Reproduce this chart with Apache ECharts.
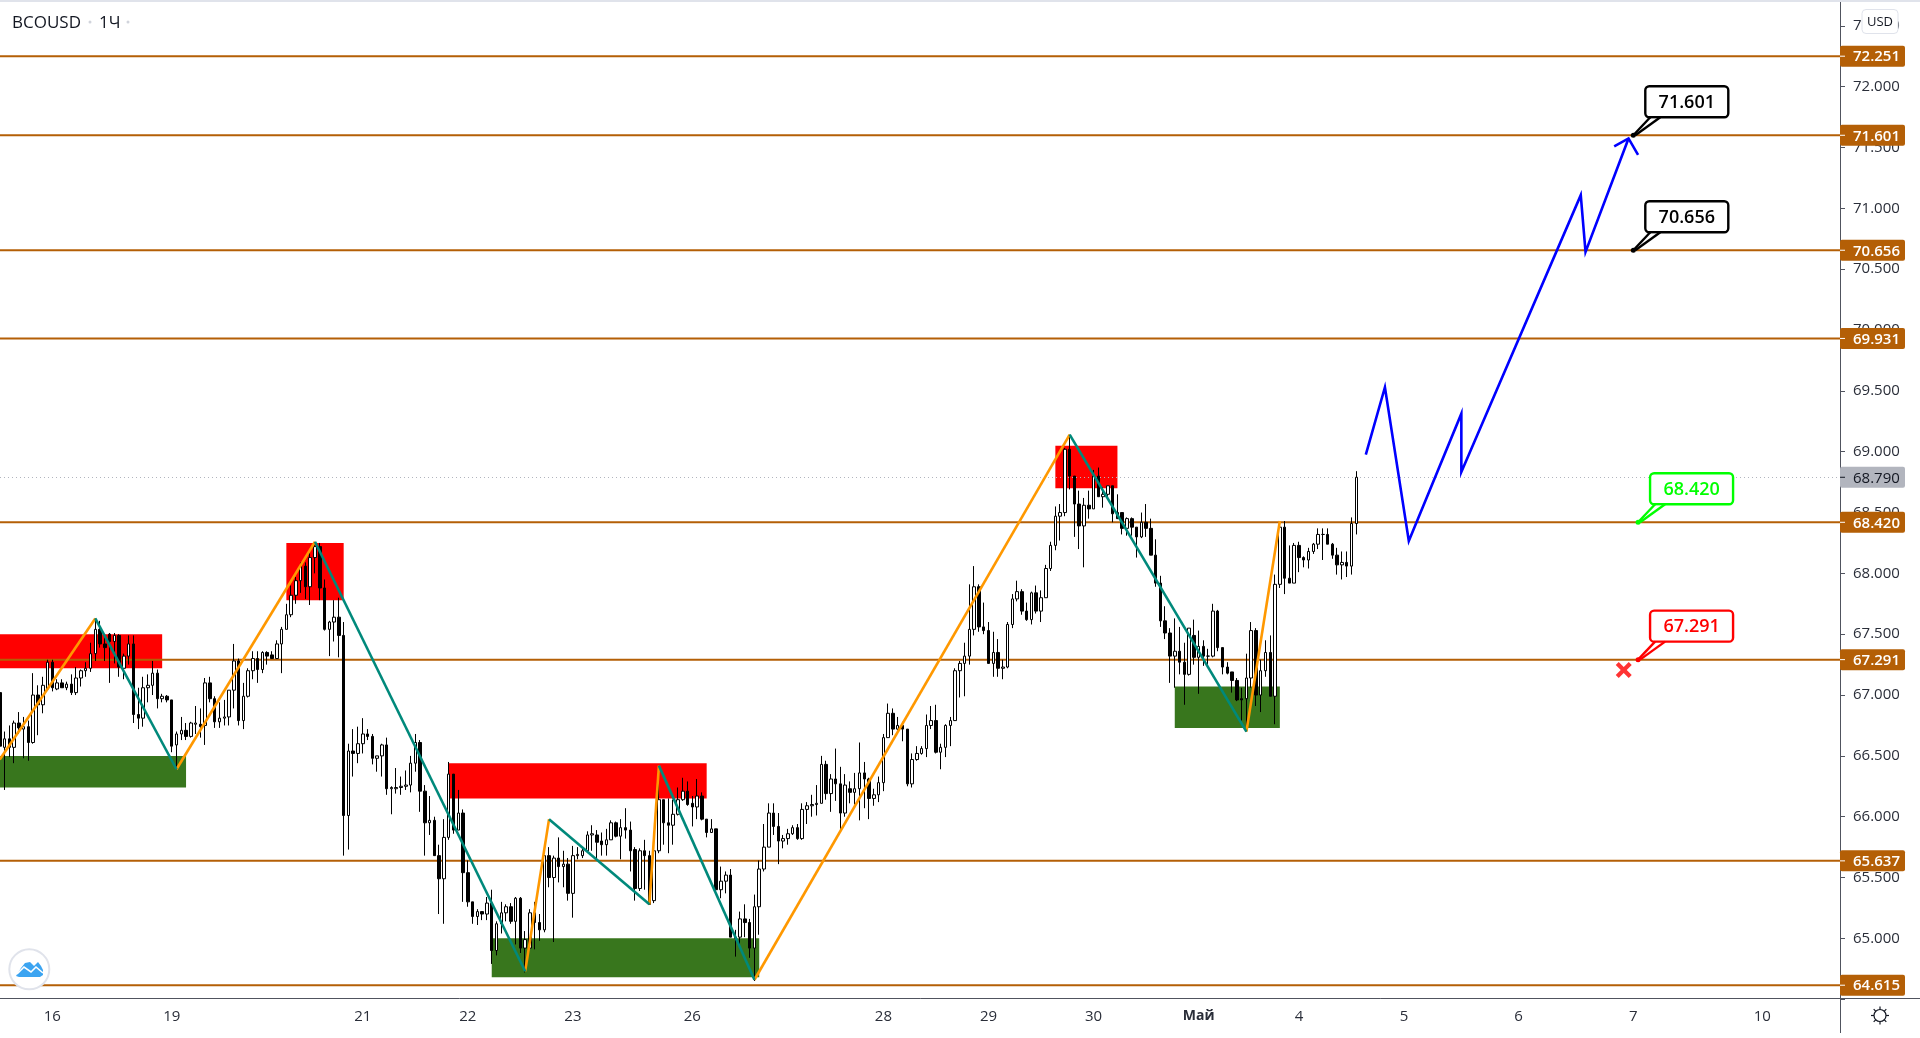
<!DOCTYPE html>
<html>
<head>
<meta charset="utf-8">
<title>BCOUSD 1Ч</title>
<script src="https://cdn.jsdelivr.net/npm/echarts@6/dist/echarts.min.js"></script>
<style>
html, body { margin: 0; padding: 0; background: #fff; }
#chart { width: 1920px; height: 1038px; }
</style>
</head>
<body>
<div id="chart"></div>
<script>
"use strict";

// one row per hourly bar: open, close, low, high
const candles = [
  [67.02,66.58,66.57,67.03],[66.57,66.64,66.22,66.70],[66.64,66.57,66.49,66.75],[66.57,66.77,66.44,66.79],[66.77,66.73,66.68,66.86],
  [66.72,66.74,66.48,66.82],[66.74,66.61,66.46,66.79],[66.61,67.00,66.60,67.18],[67.00,66.92,66.67,67.08],[66.92,67.08,66.85,67.15],
  [67.05,67.27,67.05,67.29],[67.27,67.06,67.03,67.29],[67.05,67.10,67.04,67.13],[67.10,67.06,67.06,67.13],[67.06,67.09,67.04,67.11],
  [67.09,67.02,67.00,67.17],[67.02,67.14,67.00,67.23],[67.14,67.20,67.07,67.21],[67.20,67.22,67.15,67.27],[67.22,67.34,67.19,67.43],
  [67.34,67.54,67.28,67.63],[67.54,67.42,67.39,67.61],[67.42,67.39,67.28,67.48],[67.50,67.44,67.10,67.51],[67.44,67.49,67.26,67.51],
  [67.49,67.23,67.15,67.50],[67.22,67.32,67.13,67.34],[67.32,67.42,67.25,67.49],[67.42,66.84,66.77,67.49],[66.84,66.81,66.72,67.06],
  [66.81,67.06,66.74,67.15],[67.06,67.08,66.94,67.17],[67.08,67.18,67.00,67.28],[67.18,66.97,66.89,67.21],[66.97,66.99,66.94,67.01],
  [66.99,66.96,66.94,67.00],[66.96,66.58,66.53,66.96],[66.59,66.68,66.39,66.70],[66.68,66.71,66.63,66.82],[66.71,66.66,66.63,66.77],
  [66.66,66.77,66.65,66.78],[66.76,66.77,66.68,66.91],[66.76,66.74,66.65,66.89],[66.75,67.10,66.59,67.14],[67.10,66.97,66.94,67.15],
  [66.97,66.78,66.73,66.99],[66.78,66.81,66.73,66.94],[66.81,66.82,66.75,66.96],[66.82,67.04,66.75,67.04],[67.04,67.28,66.89,67.42],
  [67.28,66.79,66.75,67.30],[66.79,66.99,66.72,67.10],[66.99,67.20,66.98,67.22],[67.20,67.30,67.13,67.36],[67.30,67.21,67.10,67.36],
  [67.21,67.35,67.18,67.36],[67.35,67.32,67.25,67.36],[67.33,67.30,67.30,67.36],[67.30,67.42,67.30,67.45],[67.42,67.54,67.18,67.56],
  [67.54,67.66,67.54,67.75],[67.66,67.82,67.64,67.90],[67.82,67.94,67.75,67.97],[67.94,68.06,67.84,68.09],[68.06,67.89,67.79,68.09],
  [67.89,68.13,67.74,68.20],[68.13,68.22,68.00,68.25],[68.22,67.88,67.78,68.25],[67.88,67.54,67.53,67.95],[67.54,67.60,67.32,67.61],
  [67.60,67.64,67.44,67.78],[67.64,67.49,67.31,67.80],[67.49,66.01,65.68,67.60],[66.01,66.54,65.73,66.60],[66.54,66.52,66.33,66.72],
  [66.52,66.60,66.44,66.74],[66.60,66.68,66.52,66.81],[66.68,66.66,66.63,66.72],[66.66,66.48,66.43,66.68],[66.48,66.50,66.37,66.50],
  [66.50,66.59,66.33,66.60],[66.59,66.23,66.18,66.65],[66.23,66.24,66.02,66.25],[66.23,66.24,66.19,66.40],[66.24,66.25,66.18,66.33],
  [66.25,66.26,66.22,66.38],[66.26,66.44,66.20,66.50],[66.44,66.61,66.37,66.68],[66.61,66.21,66.04,66.63],[66.21,65.95,65.68,66.26],
  [65.95,65.97,65.85,66.17],[65.97,65.68,65.68,66.00],[65.68,65.49,65.20,65.77],[65.49,65.83,65.12,65.98],[65.83,66.35,65.81,66.45],
  [66.35,65.89,65.86,66.35],[65.89,66.03,65.89,66.22],[66.03,65.54,65.30,66.06],[65.54,65.30,65.26,65.64],[65.30,65.18,65.12,65.30],
  [65.18,65.22,65.11,65.24],[65.22,65.20,65.15,65.22],[65.20,65.29,65.15,65.34],[65.29,64.90,64.79,65.40],[64.90,65.12,64.86,65.14],
  [65.12,65.21,65.04,65.30],[65.21,65.26,65.14,65.28],[65.26,65.14,65.12,65.29],[65.14,65.33,64.95,65.34],[65.33,64.92,64.88,65.34],
  [64.92,64.99,64.72,65.06],[64.92,65.21,64.92,65.24],[65.21,65.13,64.91,65.30],[65.13,65.07,64.98,65.20],[65.07,65.68,65.05,65.68],
  [65.68,65.50,65.42,65.75],[65.50,65.66,64.97,65.68],[65.66,65.59,65.46,65.83],[65.59,65.61,65.42,65.72],[65.61,65.37,65.31,65.66],
  [65.37,65.68,65.17,65.76],[65.68,65.69,65.65,65.75],[65.68,65.72,65.66,65.75],[65.72,65.85,65.72,65.88],[65.85,65.86,65.72,65.93],
  [65.85,65.79,65.64,65.89],[65.80,65.77,65.68,65.87],[65.77,65.81,65.68,65.90],[65.81,65.95,65.81,65.97],[65.95,65.84,65.83,65.96],
  [65.84,65.91,65.65,65.98],[65.91,65.89,65.82,66.07],[65.89,65.72,65.55,65.96],[65.73,65.41,65.31,65.75],[65.41,65.72,65.39,65.74],
  [65.72,65.68,65.40,65.81],[65.68,65.28,65.28,65.72],[65.31,65.72,65.29,65.75],[65.72,66.14,65.70,66.40],[66.14,65.95,65.77,66.14],
  [65.95,65.93,65.70,66.15],[65.93,66.02,65.77,66.14],[66.02,66.14,66.01,66.24],[66.14,66.21,66.13,66.32],[66.21,66.10,66.09,66.29],
  [66.11,66.08,65.92,66.17],[66.08,66.17,65.98,66.31],[66.17,65.98,65.97,66.20],[65.98,65.87,65.83,65.98],[65.87,65.90,65.87,65.98],
  [65.90,65.40,65.39,65.90],[65.40,65.47,65.33,65.59],[65.47,65.52,65.37,65.55],[65.52,65.01,65.01,65.57],[65.01,65.00,64.85,65.07],
  [65.01,65.16,64.93,65.22],[65.16,65.13,65.01,65.28],[65.13,64.92,64.84,65.16],[64.92,65.26,64.65,65.36],[65.26,65.57,65.03,65.64],
  [65.57,65.75,65.55,65.94],[65.75,66.03,65.75,66.11],[66.03,65.92,65.85,66.11],[65.92,65.80,65.61,66.03],[65.80,65.82,65.74,65.85],
  [65.82,65.86,65.77,65.90],[65.86,65.91,65.85,65.93],[65.91,65.82,65.81,65.94],[65.82,66.06,65.81,66.11],[66.06,66.09,65.94,66.12],
  [66.09,66.10,66.00,66.18],[66.10,66.11,66.01,66.26],[66.11,66.43,66.11,66.50],[66.43,66.19,66.14,66.46],[66.19,66.31,66.04,66.35],
  [66.31,66.27,66.13,66.56],[66.27,66.03,65.90,66.41],[66.03,66.26,66.00,66.35],[66.23,66.20,66.11,66.29],[66.20,66.23,66.10,66.36],
  [66.23,66.36,65.97,66.61],[66.36,66.31,66.07,66.45],[66.31,66.15,65.98,66.32],[66.15,66.18,66.09,66.23],[66.18,66.28,66.12,66.33],
  [66.28,66.65,66.21,66.68],[66.65,66.85,66.65,66.93],[66.85,66.72,66.67,66.89],[66.72,66.75,66.71,66.82],[66.75,66.72,66.62,66.78],
  [66.72,66.27,66.25,66.72],[66.27,66.47,66.24,66.52],[66.47,66.52,66.46,66.58],[66.52,66.56,66.51,66.58],[66.56,66.75,66.49,66.84],
  [66.75,66.79,66.72,66.91],[66.79,66.53,66.52,66.92],[66.53,66.57,66.39,66.60],[66.57,66.75,66.49,66.76],[66.75,66.79,66.58,66.82],
  [66.79,67.20,66.79,67.22],[67.20,67.26,66.98,67.28],[67.26,67.32,66.99,67.43],[67.32,67.54,67.25,67.91],[67.54,67.89,67.49,68.06],
  [67.89,67.56,67.52,67.91],[67.56,67.53,67.50,67.76],[67.53,67.26,67.26,67.60],[67.26,67.35,67.15,67.52],[67.35,67.22,67.15,67.46],
  [67.22,67.23,67.13,67.29],[67.23,67.58,67.22,67.60],[67.58,67.79,67.55,67.83],[67.79,67.85,67.77,67.94],[67.85,67.69,67.66,67.87],
  [67.69,67.62,67.61,67.76],[67.62,67.84,67.58,67.85],[67.84,67.69,67.67,67.90],[67.69,67.80,67.60,67.86],[67.80,68.04,67.80,68.07],
  [68.04,68.23,68.02,68.26],[68.23,68.47,68.19,68.55],[68.47,68.50,68.27,68.57],[68.50,69.02,68.47,69.03],[69.02,68.80,68.69,69.14],
  [68.80,68.57,68.30,68.80],[68.57,68.39,68.20,68.68],[68.39,68.56,68.05,68.62],[68.56,68.53,68.45,68.68],[68.53,68.80,68.53,68.85],
  [68.80,68.63,68.63,68.87],[68.63,68.65,68.54,68.71],[68.65,68.72,68.62,68.72],[68.72,68.49,68.42,68.72],[68.50,68.45,68.45,68.65],
  [68.50,68.37,68.32,68.50],[68.37,68.45,68.31,68.46],[68.45,68.38,68.31,68.46],[68.38,68.30,68.13,68.38],[68.30,68.42,68.29,68.50],
  [68.42,68.37,68.30,68.57],[68.37,68.15,68.15,68.45],[68.15,67.92,67.89,68.28],[67.92,67.61,67.56,67.98],[67.61,67.51,67.46,67.73],
  [67.51,67.32,67.10,67.55],[67.32,67.36,67.06,67.63],[67.36,67.27,67.17,67.56],[67.27,67.17,66.92,67.43],[67.17,67.55,67.16,67.55],
  [67.49,67.31,67.25,67.62],[67.31,67.40,67.01,67.53],[67.40,67.32,67.24,67.45],[67.32,67.32,67.25,67.38],[67.32,67.69,67.31,67.75],
  [67.69,67.39,67.36,67.70],[67.39,67.23,67.17,67.39],[67.23,67.18,67.17,67.27],[67.19,67.12,67.02,67.19],[67.12,66.96,66.95,67.14],
  [66.97,66.96,66.79,67.06],[66.97,67.14,66.70,67.34],[67.14,67.53,67.06,67.60],[67.53,67.00,66.91,67.55],[67.00,67.20,66.86,67.29],
  [67.20,67.35,67.15,67.45],[67.35,66.99,66.99,67.49],[66.99,67.91,66.76,67.99],[67.91,68.38,67.88,68.43],[68.38,67.96,67.83,68.43],
  [67.96,67.92,67.92,68.23],[67.92,68.23,67.92,68.25],[68.23,68.13,68.01,68.26],[68.13,68.11,68.05,68.14],[68.11,68.18,68.04,68.21],
  [68.18,68.24,68.16,68.25],[68.24,68.32,68.20,68.37],[68.32,68.32,68.11,68.37],[68.32,68.24,68.24,68.37],[68.24,68.15,68.12,68.25],
  [68.15,68.07,67.99,68.21],[68.07,68.09,67.95,68.18],[68.09,68.06,67.97,68.18],[68.06,68.41,67.99,68.46],[68.41,68.79,68.32,68.84],
];

// bar slots on the time axis, past and projected
const barCount = 386;
const tickBars = [11, 36, 76, 98, 120, 145, 185, 207, 229, 251, 272, 294, 318, 342, 369];
const tickLabels = ["16", "19", "21", "22", "23", "26", "28", "29", "30", "Май", "4", "5", "6", "7", "10"];

const levels = [72.251, 71.601, 70.656, 69.931, 68.42, 67.291, 65.637, 64.615];
const lastPrice = 68.79;

// zones: start bar, end bar, top price, bottom price
const redZones = [[0, 34, 67.50, 67.22], [60, 72, 68.25, 67.78], [94, 148, 66.44, 66.15], [221, 234, 69.05, 68.70]];
const greenZones = [[0, 39, 66.50, 66.24], [103, 159, 65.00, 64.68], [246, 268, 67.07, 66.73]];

// zigzag legs as bar, price
const upLegs = [
  [[0, 66.47], [20, 67.63]],
  [[37, 66.39], [66, 68.26]],
  [[110, 64.73], [115, 65.98]],
  [[136, 65.28], [138, 66.42]],
  [[158, 64.66], [224, 69.14]],
  [[261, 66.70], [268, 68.43]],
];
const downLegs = [
  [[20, 67.63], [37, 66.39]],
  [[66, 68.26], [110, 64.73]],
  [[115, 65.98], [136, 65.28]],
  [[138, 66.42], [158, 64.66]],
  [[224, 69.14], [261, 66.70]],
];

const forecastPath = [[286, 68.976], [290, 69.53], [295, 68.267], [306, 69.313], [306, 68.834], [331, 71.109], [332, 70.642], [341, 71.575]];
const forecastHead = [[338, 71.51], [341, 71.575], [343, 71.44]];

// callouts: bar, price, label, colour
const callouts = [
  [342, 71.601, "71.601", "#000000"],
  [342, 70.656, "70.656", "#000000"],
  [343, 68.42, "68.420", "#00ff00"],
  [343, 67.291, "67.291", "#ff0000"],
];
const stopMark = [[340, 67.206]];

const BROWN = "#b45f06";
const AXIS = "#50535e";
const TEXT = "#2a2e39";
const FONT = '"Open Sans", sans-serif';
const AXIS_X = 1840;

const categories = Array.from({ length: barCount }, (_, i) => {
  const k = tickBars.indexOf(i);
  return k < 0 ? "" : tickLabels[k];
});
const isTick = (i, v) => v !== "";

function zoneItem(list, color) {
  return {
    type: "custom", z: 1, silent: true, animation: false,
    data: list.map((z) => [z[0], z[2]]),
    renderItem: (params, api) => {
      const z = list[params.dataIndex];
      const a = api.coord([z[0], z[2]]);
      const b = api.coord([z[1], z[3]]);
      const x0 = z[0] === 0 ? 0 : a[0];
      return { type: "rect", shape: { x: x0, y: a[1], width: b[0] - x0, height: b[1] - a[1] }, style: { fill: color } };
    },
  };
}

function lineItem(points, color, z, width) {
  return {
    type: "line", data: points, z, silent: true, animation: false, showSymbol: false, symbol: "none",
    lineStyle: { color, width: width || 2.6, join: "miter" },
  };
}

// horizontal levels across the plot
const levelLines = {
  type: "custom", z: 2, silent: true, animation: false,
  data: levels.map((p) => [0, p]),
  renderItem: (params, api) => {
    const y = api.coord([0, api.value(1)])[1];
    return { type: "line", shape: { x1: 0, y1: y, x2: AXIS_X, y2: y }, style: { stroke: BROWN, lineWidth: 2 } };
  },
};

const lastPriceLine = {
  type: "custom", z: 2, silent: true, animation: false,
  data: [[0, lastPrice]],
  renderItem: (params, api) => {
    const y = Math.round(api.coord([0, lastPrice])[1]) + 0.5;
    return { type: "line", shape: { x1: 0, y1: y, x2: AXIS_X, y2: y }, style: { stroke: "#b2b5be", lineWidth: 1, lineDash: [1, 3] } };
  },
};

// coloured price tags sitting on the price scale
const priceTag = (price, fill, color, weight) => ({
  type: "custom", z: 8, silent: true, animation: false, clip: false,
  data: [[0, price]],
  renderItem: (params, api) => {
    const y = api.coord([0, price])[1];
    return {
      type: "group",
      children: [
        { type: "rect", shape: { x: AXIS_X, y: y - 10.5, width: 65, height: 21, r: 2 }, style: { fill } },
        { type: "line", shape: { x1: AXIS_X, y1: y, x2: AXIS_X + 5, y2: y }, style: { stroke: color, lineWidth: 1 } },
        { type: "text", x: AXIS_X + 13, y: y + 1, style: { text: price.toFixed(3), fill: color, font: `${weight} 15px ${FONT}`, textAlign: "left", textVerticalAlign: "middle" } },
      ],
    };
  },
});

const calloutSeries = {
  type: "custom", z: 7, silent: true, animation: false, clip: false,
  data: callouts.map((c) => [c[0], c[1]]),
  renderItem: (params, api) => {
    const c = callouts[params.dataIndex];
    const [x, y] = api.coord([c[0], c[1]]);
    const top = y - 49, h = 31, base = top + h;
    const stroke = { stroke: c[3], lineWidth: 2.4 };
    return {
      type: "group",
      children: [
        { type: "rect", shape: { x: x + 12, y: top, width: 83, height: h, r: 4 }, style: { fill: "#fff", ...stroke } },
        { type: "polygon", shape: { points: [[x, y], [x + 18, base + 1.5], [x + 27, base + 1.5]] }, style: { fill: "#fff" } },
        { type: "line", shape: { x1: x, y1: y, x2: x + 17, y2: base }, style: stroke },
        { type: "line", shape: { x1: x + 2, y1: y, x2: x + 27, y2: base }, style: stroke },
        { type: "circle", shape: { cx: x, cy: y, r: 2.5 }, style: { fill: c[3] } },
        { type: "text", x: x + 53.5, y: top + h / 2 + 1, style: { text: c[2], fill: c[3], font: `600 18px ${FONT}`, textAlign: "center", textVerticalAlign: "middle" } },
      ],
    };
  },
};

// short rays around the settings gear
const gearRays = [[0, -1], [0, 1], [-1, 0], [1, 0], [-0.7, -0.7], [0.7, -0.7], [-0.7, 0.7], [0.7, 0.7]].map((d) => ({
  type: "line", silent: true,
  shape: { x1: d[0] * 6, y1: d[1] * 6, x2: d[0] * 9, y2: d[1] * 9 },
  style: { stroke: "#131722", lineWidth: 1.2 },
}));

const chart = echarts.init(document.getElementById("chart"));
chart.setOption({
  animation: false,
  backgroundColor: "#ffffff",
  // the first bar hangs off the left edge, so the grid must not be pulled back inside the canvas
  grid: { left: -2.62, right: 78.93, top: 25.9, bottom: 38.8, outerBoundsMode: "none" },
  xAxis: {
    type: "category", data: categories, boundaryGap: true, offset: -1.2,
    axisLine: { lineStyle: { color: AXIS, width: 1 } },
    axisTick: { alignWithLabel: true, interval: isTick, length: 5, lineStyle: { color: AXIS } },
    axisLabel: {
      interval: isTick, margin: 11, color: TEXT, fontFamily: FONT, fontSize: 15,
      formatter: (v) => (v === "Май" ? "{b|Май}" : v),
      rich: { b: { fontWeight: 700, fontFamily: FONT, fontSize: 14, color: TEXT } },
    },
    splitLine: { show: false },
  },
  yAxis: {
    type: "value", position: "right", min: 64.5, max: 72.5, interval: 0.5, offset: -1.07, scale: true,
    axisLine: { show: true, lineStyle: { color: AXIS, width: 1 } },
    axisTick: { show: true, length: 5, lineStyle: { color: AXIS } },
    axisLabel: {
      margin: 13, color: TEXT, fontFamily: FONT, fontSize: 15, padding: [2, 0, 0, 0],
      formatter: (v) => (v === 64.5 ? "" : v.toFixed(3)),
    },
    splitLine: { show: false },
  },
  series: [
    zoneItem(redZones, "#ff0000"),
    zoneItem(greenZones, "#38761d"),
    levelLines,
    lastPriceLine,
    {
      type: "candlestick", z: 3, data: candles, barWidth: 3, silent: true, animation: false,
      itemStyle: { color: "#ffffff", color0: "#000000", borderColor: "#000000", borderColor0: "#000000", borderWidth: 1 },
    },
    ...upLegs.map((leg) => lineItem(leg, "#ff9800", 4)),
    ...downLegs.map((leg) => lineItem(leg, "#00897b", 4)),
    lineItem(forecastPath, "#0000ff", 5),
    lineItem(forecastHead, "#0000ff", 5),
    {
      type: "scatter", z: 6, data: stopMark, silent: true, animation: false, symbolSize: 16,
      symbol: "path://M3 0L8 5L13 0L16 3L11 8L16 13L13 16L8 11L3 16L0 13L5 8L0 3Z",
      itemStyle: { color: "#ff0000" },
    },
    calloutSeries,
    ...levels.map((p) => priceTag(p, BROWN, "#ffffff", 600)),
    priceTag(lastPrice, "#b2b5be", "#131722", 400),
  ],
  graphic: [
    { type: "rect", z: 100, silent: true, shape: { x: 0, y: 0, width: 1920, height: 2 }, style: { fill: "#e0e3eb" } },
    // axis lines run past the plot area
    { type: "line", z: 100, silent: true, shape: { x1: AXIS_X + 0.5, y1: 2, x2: AXIS_X + 0.5, y2: 26 }, style: { stroke: AXIS, lineWidth: 1 } },
    { type: "line", z: 100, silent: true, shape: { x1: AXIS_X + 0.5, y1: 998, x2: AXIS_X + 0.5, y2: 1033 }, style: { stroke: AXIS, lineWidth: 1 } },
    { type: "line", z: 100, silent: true, shape: { x1: AXIS_X, y1: 998.5, x2: 1920, y2: 998.5 }, style: { stroke: AXIS, lineWidth: 1 } },
    // legend
    { type: "text", z: 100, silent: true, x: 12, y: 23, style: { text: "BCOUSD", fill: "#131722", font: `17px ${FONT}`, textVerticalAlign: "middle" } },
    { type: "circle", z: 100, silent: true, shape: { cx: 90, cy: 22, r: 1.5 }, style: { fill: "#d1d4dc" } },
    { type: "text", z: 100, silent: true, x: 99, y: 23, style: { text: "1Ч", fill: "#131722", font: `17px ${FONT}`, textVerticalAlign: "middle" } },
    { type: "circle", z: 100, silent: true, shape: { cx: 128, cy: 22, r: 1.5 }, style: { fill: "#d1d4dc" } },
    // USD button
    { type: "rect", z: 100, silent: true, shape: { x: 1862, y: 9.5, width: 36, height: 24, r: 4 }, style: { fill: "#ffffff", stroke: "#e0e3eb", lineWidth: 1 } },
    { type: "text", z: 101, silent: true, x: 1880, y: 22, style: { text: "USD", fill: "#131722", font: `13px ${FONT}`, textAlign: "center", textVerticalAlign: "middle" } },
    // logo badge
    { type: "circle", z: 100, silent: true, shape: { cx: 29.3, cy: 969.3, r: 20 }, style: { fill: "#ffffff", stroke: "#e0e3eb", lineWidth: 2 } },
    { type: "polygon", z: 100, silent: true, shape: { points: [[16, 976], [21, 968], [25, 963], [30, 962], [34, 966], [38, 962], [41, 966], [43, 970], [43, 975], [40, 977], [19, 977]] }, style: { fill: "#3ba4f1" } },
    { type: "polyline", z: 101, silent: true, shape: { points: [[17, 974], [24, 967], [31, 972], [36, 967], [43, 973]] }, style: { fill: null, stroke: "#ffffff", lineWidth: 1.6 } },
    // settings gear
    { type: "circle", z: 100, silent: true, shape: { cx: 1880, cy: 1015.5, r: 6 }, style: { fill: null, stroke: "#131722", lineWidth: 1.2 } },
    { type: "group", z: 100, silent: true, x: 1880, y: 1015.5, children: gearRays },
  ],
});
</script>
</body>
</html>
